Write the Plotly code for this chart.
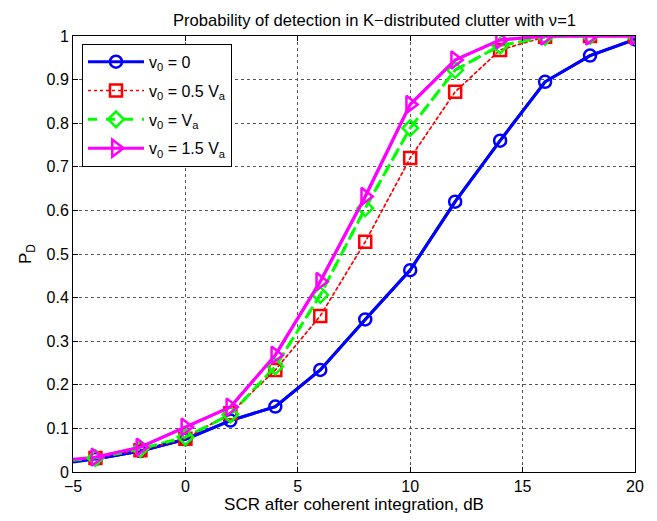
import plotly.graph_objects as go

scr_db = [-5, -4, -2, 0, 2, 4, 6, 8, 10, 12, 14, 16, 18, 20]
pd_v0_0 = [0.023, 0.030, 0.048, 0.075, 0.118, 0.150, 0.234, 0.350, 0.463, 0.620, 0.760, 0.895, 0.955, 0.992]
pd_v0_05 = [0.027, 0.032, 0.050, 0.076, 0.135, 0.234, 0.358, 0.528, 0.720, 0.872, 0.968, 0.998, 1.0, 1.0]
pd_v0_1 = [0.027, 0.032, 0.053, 0.080, 0.132, 0.242, 0.406, 0.605, 0.789, 0.922, 0.978, 0.998, 1.0, 1.0]
pd_v0_15 = [0.029, 0.034, 0.057, 0.103, 0.149, 0.268, 0.437, 0.632, 0.843, 0.945, 0.991, 1.0, 1.0, 1.0]

names = ["v<sub>0</sub> = 0", "v<sub>0</sub> = 0.5 V<sub>a</sub>",
         "v<sub>0</sub> = V<sub>a</sub>", "v<sub>0</sub> = 1.5 V<sub>a</sub>"]
series = [pd_v0_0, pd_v0_05, pd_v0_1, pd_v0_15]
colors = ["#0000FF", "#FF0000", "#00FF00", "#FF00FF"]
dashes = ["solid", "dot", "dash", "solid"]
widths = [3, 1.5, 3, 3]
symbols = ["circle-open", "square-open", "diamond-open", "triangle-right-open"]
msizes = [12, 12, 12, 15]

fig = go.Figure()
for i in range(4):
    fig.add_trace(go.Scatter(x=scr_db, y=series[i], mode="lines",
                             line=dict(color=colors[i], width=widths[i], dash=dashes[i]),
                             showlegend=False, hoverinfo="skip", legendgroup="g%d" % i))
for i in range(4):
    fig.add_trace(go.Scatter(x=scr_db[1:], y=series[i][1:], mode="lines+markers", name=names[i],
                             legendgroup="g%d" % i,
                             line=dict(color=colors[i], width=widths[i], dash=dashes[i]),
                             marker=dict(symbol=symbols[i], size=msizes[i], color=colors[i],
                                         line=dict(width=2.5, color=colors[i]))))

axis_common = dict(showline=True, linecolor="black", linewidth=1, mirror="ticks",
                   ticks="inside", ticklen=5, tickcolor="black",
                   showgrid=True, gridcolor="#555555", griddash="dot", gridwidth=1,
                   zeroline=False, tickfont=dict(family="Liberation Sans, Arial", size=16, color="black"))

fig.update_layout(
    width=657, height=521,
    margin=dict(l=73, r=22, t=36, b=49),
    paper_bgcolor="white", plot_bgcolor="white",
    font=dict(family="Liberation Sans, Arial", color="black"),
    xaxis=dict(range=[-5, 20], tickvals=[-5, 0, 5, 10, 15, 20],
               title=dict(text="SCR after coherent integration, dB", font=dict(size=17), standoff=2),
               **axis_common),
    yaxis=dict(range=[0, 1], tickvals=[0, 0.1, 0.2, 0.3, 0.4, 0.5, 0.6, 0.7, 0.8, 0.9, 1],
               ticktext=["0", "0.1", "0.2", "0.3", "0.4", "0.5", "0.6", "0.7", "0.8", "0.9", "1"],
               title=dict(text="P<sub>D</sub>", font=dict(size=17), standoff=10),
               **axis_common),
    legend=dict(x=0.016, y=0.982, xanchor="left", yanchor="top",
                bgcolor="white", bordercolor="black", borderwidth=1,
                font=dict(size=16, color="black"), itemwidth=56, tracegroupgap=5),
    annotations=[dict(text="Probability of detection in K\u2212distributed clutter with \u03bd=1",
                      xref="paper", yref="paper", x=0.537, y=1.0, xanchor="center", yanchor="bottom",
                      yshift=4, showarrow=False, font=dict(size=16.6, color="black"))],
)

fig.write_html("out.html")
